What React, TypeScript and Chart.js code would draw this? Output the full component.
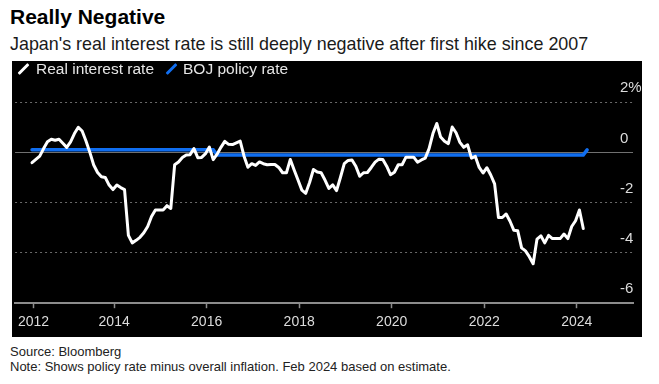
import React, { useEffect, useRef } from "react";
import { Chart, registerables } from "chart.js";

Chart.register(...registerables);

// Monthly observations, first month = March 2012 (index 0), last = Feb 2024
const firstMonth = "2012-03";
const realRate: number[] = [
  -0.41, -0.28, -0.15, 0.15, 0.42, 0.52, 0.48, 0.52, 0.36, 0.2,
  0.42, 0.75, 1.0, 0.85, 0.45, 0.0, -0.5, -0.8, -0.97, -1.0,
  -1.3, -1.48, -1.3, -1.4, -1.48, -3.3, -3.6, -3.5, -3.38, -3.2,
  -2.95, -2.55, -2.29, -2.29, -2.29, -2.12, -2.23, -0.49, -0.38, -0.2,
  -0.1, -0.09, 0.15, -0.21, -0.2, -0.05, 0.21, -0.29, -0.07, 0.2,
  0.44, 0.32, 0.31, 0.38, 0.45, -0.15, -0.59, -0.45, -0.52, -0.38,
  -0.45, -0.49, -0.48, -0.48, -0.6, -0.81, -0.81, -0.28, -0.7, -1.1,
  -1.5, -1.63, -1.2, -0.68, -0.78, -0.81, -1.1, -1.43, -1.29, -1.52,
  -1.0, -0.45, -0.32, -0.3, -0.55, -0.95, -0.81, -0.8, -0.6, -0.39,
  -0.27, -0.28, -0.55, -0.89, -0.79, -0.49, -0.49, -0.19, -0.19, -0.19,
  -0.39, -0.3, -0.23, 0.15, 0.75, 1.15, 0.61, 0.44, 0.35, 1.01,
  0.78, 0.4, 0.2, 0.3, -0.23, -0.16, -0.6, -0.82, -0.61, -0.9,
  -1.25, -2.59, -2.59, -2.45, -2.74, -3.1, -3.12, -3.8, -3.92, -4.15,
  -4.43, -3.45, -3.32, -3.6, -3.3, -3.43, -3.43, -3.43, -3.25, -3.43,
  -2.95, -2.72, -2.29, -3.03,
];

// BOJ policy rate: month index (from firstMonth) where the level is known
const policyMonthIndex: number[] = [0, 47, 48, 143, 144];
const policyRate: number[] = [0.1, 0.1, -0.1, -0.1, 0.1];

// x axis ticks (month index positions) and their labels
const xTickIndex: number[] = [0.4, 21.3, 45.3, 69.3, 93.3, 117.3, 141.3];
const xTickLabels: string[] = ["2012", "2014", "2016", "2018", "2020", "2022", "2024"];

// y axis ticks
const yTickValues: number[] = [-6, -4, -2, 0, 2];
const yTickLabels: string[] = ["-6", "-4", "-2", "0", "2%"];

const seriesNames: string[] = ["Real interest rate", "BOJ policy rate"];
const seriesColors: string[] = ["#ffffff", "#106ef0"];

const FONT = "'Liberation Sans', Arial, sans-serif";
const Y_FONT_SIZE = 15;

function widestLabel(labels: string[], size: number): number {
  const c = document.createElement("canvas").getContext("2d");
  if (!c) return 20;
  c.font = `${size}px ${FONT}`;
  return Math.max(...labels.map((l) => c.measureText(l).width));
}

export default function App() {
  const canvasRef = useRef<HTMLCanvasElement | null>(null);

  useEffect(() => {
    const canvas = canvasRef.current;
    if (!canvas) return;
    const widest = widestLabel(yTickLabels, Y_FONT_SIZE);
    const chart = new Chart(canvas, {
      type: "line",
      data: {
        datasets: [
          {
            label: seriesNames[0],
            data: realRate.map((v, i) => ({ x: i, y: v })),
            borderColor: seriesColors[0],
            borderWidth: 3,
            pointRadius: 0,
            tension: 0,
            borderJoinStyle: "round",
            borderCapStyle: "round",
          },
          {
            label: seriesNames[1],
            data: policyMonthIndex.map((m, i) => ({ x: m, y: policyRate[i] })),
            borderColor: seriesColors[1],
            borderWidth: 3.5,
            pointRadius: 0,
            tension: 0,
            borderCapStyle: "round",
          },
        ],
      },
      options: {
        animation: false,
        responsive: false,
        devicePixelRatio: 1,
        layout: { padding: { top: 20, left: 0, right: 0, bottom: 0 } },
        plugins: { legend: { display: false }, tooltip: { enabled: false } },
        scales: {
          x: {
            type: "linear",
            min: -4.4,
            max: 155.9,
            afterBuildTicks: (s: any) => {
              s.ticks = xTickIndex.map((v) => ({ value: v }));
            },
            ticks: {
              autoSkip: false,
              maxRotation: 0,
              padding: 6,
              color: "#dcdcdc",
              font: { family: FONT, size: 14 },
              callback: (_v: any, i: number) => xTickLabels[i],
            },
            grid: {
              drawOnChartArea: false,
              drawTicks: true,
              tickLength: 5,
              tickWidth: 1.5,
              color: "#8c8c8c",
            },
            border: { display: true, color: "#8c8c8c", width: 2 },
          },
          y: {
            type: "linear",
            position: "right",
            min: -6,
            max: 2.84,
            afterBuildTicks: (s: any) => {
              s.ticks = yTickValues.map((v) => ({ value: v }));
            },
            afterFit: (s: any) => {
              s.width = 9;
            },
            ticks: {
              mirror: true,
              crossAlign: "far",
              padding: widest - 13,
              labelOffset: -14,
              autoSkip: false,
              color: "#dcdcdc",
              font: { family: FONT, size: Y_FONT_SIZE },
              callback: (_v: any, i: number) => yTickLabels[i],
            },
            grid: {
              drawTicks: false,
              lineWidth: 1,
              color: (c: any) => {
                const v = c.tick ? c.tick.value : null;
                if (v === -6) return "rgba(0,0,0,0)";
                if (v === 0) return "#707070";
                return "#6a6a6a";
              },
            },
            border: {
              display: false,
              dash: (c: any) => (c.tick && c.tick.value === 0 ? [] : [2, 3]),
            },
          },
        },
      },
    } as any);
    return () => chart.destroy();
  }, []);

  const legendIcon = (color: string, left: number) => (
    <div
      style={{
        position: "absolute",
        left: left - 1.5,
        top: 1,
        width: 3,
        height: 14,
        background: color,
        transform: "rotate(45deg)",
        borderRadius: 1,
      }}
    />
  );

  return (
    <div
      style={{
        position: "absolute",
        left: 0,
        top: 0,
        width: 659,
        height: 384,
        background: "#ffffff",
        fontFamily: FONT,
        overflow: "hidden",
      }}
    >
      <div
        style={{
          position: "absolute",
          left: 10,
          top: 4,
          fontSize: 21,
          lineHeight: "25px",
          fontWeight: 700,
          color: "#000",
          whiteSpace: "nowrap",
        }}
      >
        Really Negative
      </div>
      <div
        style={{
          position: "absolute",
          left: 10,
          top: 33,
          fontSize: 17.9,
          lineHeight: "22px",
          color: "#1a1a1a",
          whiteSpace: "nowrap",
        }}
      >
        Japan's real interest rate is still deeply negative after first hike since 2007
      </div>
      <div
        style={{
          position: "absolute",
          left: 12,
          top: 61,
          width: 630,
          height: 276,
          background: "#000000",
        }}
      >
        <canvas
          ref={canvasRef}
          width={630}
          height={276}
          style={{ position: "absolute", left: 0, top: 0, width: 630, height: 276 }}
        />
        {legendIcon(seriesColors[0], 11)}
        <div
          style={{
            position: "absolute",
            left: 24,
            top: 0,
            fontSize: 15.5,
            lineHeight: "16px",
            color: "#e6e6e6",
            whiteSpace: "nowrap",
          }}
        >
          {seriesNames[0]}
        </div>
        {legendIcon(seriesColors[1], 159)}
        <div
          style={{
            position: "absolute",
            left: 171,
            top: 0,
            fontSize: 15.5,
            lineHeight: "16px",
            color: "#e6e6e6",
            whiteSpace: "nowrap",
          }}
        >
          {seriesNames[1]}
        </div>
      </div>
      <div
        style={{
          position: "absolute",
          left: 10,
          top: 344,
          fontSize: 13,
          lineHeight: "15px",
          color: "#222",
          whiteSpace: "nowrap",
        }}
      >
        Source: Bloomberg
        <br />
        Note: Shows policy rate minus overall inflation. Feb 2024 based on estimate.
      </div>
    </div>
  );
}
